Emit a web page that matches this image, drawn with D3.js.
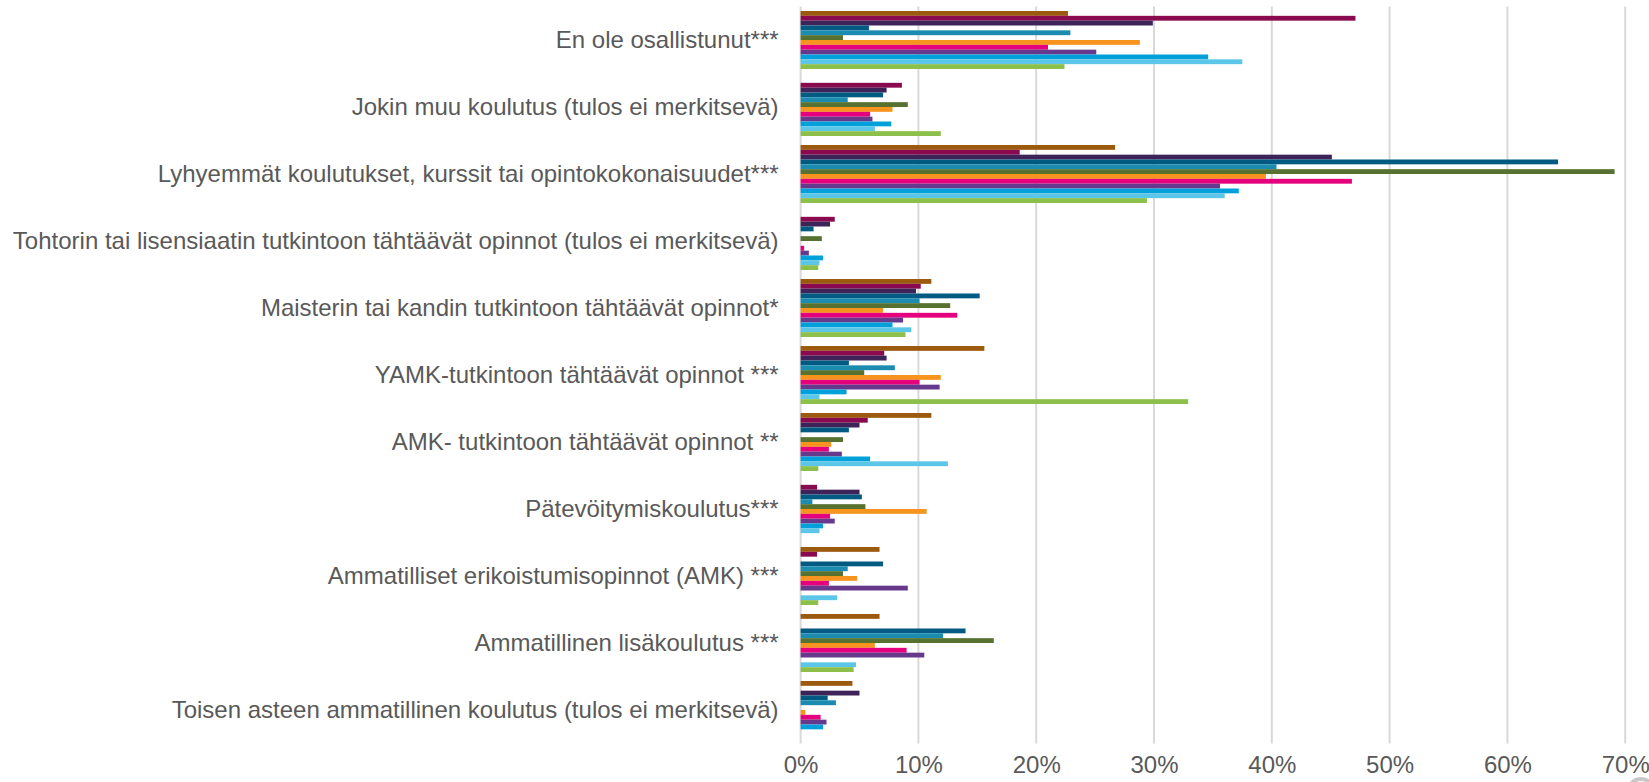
<!DOCTYPE html>
<html>
<head>
<meta charset="utf-8">
<script src="https://cdn.jsdelivr.net/npm/d3@7"></script>
<style>
  html, body { margin: 0; padding: 0; background: #fff; }
  svg { display: block; }
  text { font-family: "Liberation Sans", Arial, sans-serif; fill: #595959; }
</style>
</head>
<body>
<svg id="chart" width="1649" height="782"></svg>
<script>
// Training categories, top to bottom
const categories = [
  "En ole osallistunut***",
  "Jokin muu koulutus (tulos ei merkitsevä)",
  "Lyhyemmät koulutukset, kurssit tai opintokokonaisuudet***",
  "Tohtorin tai lisensiaatin tutkintoon tähtäävät opinnot (tulos ei merkitsevä)",
  "Maisterin tai kandin tutkintoon tähtäävät opinnot*",
  "YAMK-tutkintoon tähtäävät opinnot ***",
  "AMK- tutkintoon tähtäävät opinnot **",
  "Pätevöitymiskoulutus***",
  "Ammatilliset erikoistumisopinnot (AMK) ***",
  "Ammatillinen lisäkoulutus ***",
  "Toisen asteen ammatillinen koulutus (tulos ei merkitsevä)"
];

// Share of respondents (%) per group, one array per series; null = no bar
const series01 = [22.7, null, 26.7, null, 11.1, 15.6, 11.1, null, 6.7, 6.7, 4.4];
const series02 = [47.1, 8.6, 18.6, 2.9, 10.2, 7.1, 5.7, 1.4, 1.4, null, null];
const series03 = [29.9, 7.3, 45.1, 2.5, 9.8, 7.3, 5.0, 5.0, null, null, 5.0];
const series04 = [5.8, 7.0, 64.3, 1.1, 15.2, 4.1, 4.1, 5.2, 7.0, 14.0, 2.3];
const series05 = [22.9, 4.0, 40.4, null, 10.1, 8.0, null, 1.0, 4.0, 12.1, 3.0];
const series06 = [3.6, 9.1, 69.1, 1.8, 12.7, 5.4, 3.6, 5.5, 3.6, 16.4, null];
const series07 = [28.8, 7.8, 39.5, null, 7.0, 11.9, 2.6, 10.7, 4.8, 6.3, 0.4];
const series08 = [21.0, 5.9, 46.8, 0.3, 13.3, 10.1, 2.4, 2.5, 2.4, 9.0, 1.7];
const series09 = [25.1, 6.1, 35.6, 0.7, 8.7, 11.8, 3.5, 2.9, 9.1, 10.5, 2.2];
const series10 = [34.6, 7.7, 37.2, 1.9, 7.8, 3.9, 5.9, 1.9, null, null, 1.9];
const series11 = [37.5, 6.3, 36.0, 1.6, 9.4, 1.6, 12.5, 1.6, 3.1, 4.7, null];
const series12 = [22.4, 11.9, 29.4, 1.5, 8.9, 32.9, 1.5, null, 1.5, 4.5, null];

const seriesColors = [
  "#9C5A0E", "#8A0A4F", "#3E2359", "#005A82", "#1C8BB0", "#567130",
  "#F7941E", "#E5007D", "#66398C", "#00A1DB", "#5BC6E8", "#8CC04B"
];

// Axis ticks (fractions)
const tickValues = [0, 0.1, 0.2, 0.3, 0.4, 0.5, 0.6, 0.7];

const allSeries = [series01, series02, series03, series04, series05, series06,
                   series07, series08, series09, series10, series11, series12];

const svg = d3.select("#chart");
const plot = { left: 800.6, right: 1625.2, top: 6.5, bottom: 743.5 };
const fontSize = 24;

const x = d3.scaleLinear().domain([0, 0.7]).range([plot.left, plot.right]);
const y = d3.scaleBand().domain(categories).range([plot.top, plot.bottom]).paddingInner(0).paddingOuter(0);
const seriesIdx = d3.range(allSeries.length);
const inner = d3.scaleBand().domain(seriesIdx).range([4.5, y.bandwidth() - 4.5]);

// vertical gridlines
svg.append("g")
  .selectAll("line")
  .data(tickValues)
  .join("line")
  .attr("x1", d => x(d)).attr("x2", d => x(d))
  .attr("y1", plot.top).attr("y2", plot.bottom)
  .attr("stroke", "#D9D9D9")
  .attr("stroke-width", 2);

// bars
const rows = [];
categories.forEach((c, ci) => {
  allSeries.forEach((s, si) => {
    if (s[ci] != null) rows.push({ cat: c, si, v: s[ci] / 100 });
  });
});

svg.append("g")
  .selectAll("rect")
  .data(rows)
  .join("rect")
  .attr("x", x(0))
  .attr("y", d => y(d.cat) + inner(d.si))
  .attr("width", d => x(d.v) - x(0))
  .attr("height", inner.bandwidth())
  .attr("fill", d => seriesColors[d.si]);

// category labels
const yAxis = d3.axisLeft(y).tickSize(0).tickPadding(22);
const gy = svg.append("g").attr("transform", `translate(${plot.left},0)`).call(yAxis);
gy.select(".domain").remove();
gy.selectAll("text").attr("font-size", fontSize).style("font-family", "'Liberation Sans', Arial, sans-serif").attr("fill", "#595959");

// value axis
const xAxis = d3.axisBottom(x).tickValues(tickValues).tickFormat(d3.format(".0%")).tickSize(0).tickPadding(12);
const gx = svg.append("g").attr("transform", `translate(0,${plot.bottom})`).call(xAxis);
gx.select(".domain").remove();
gx.selectAll("text").attr("font-size", fontSize).style("font-family", "'Liberation Sans', Arial, sans-serif").attr("fill", "#595959");

// small grey scroll ring in the lower right corner
svg.append("circle")
  .attr("cx", 1641).attr("cy", 792).attr("r", 13)
  .attr("fill", "none").attr("stroke", "#C8C8C8").attr("stroke-width", 4);
</script>
</body>
</html>
